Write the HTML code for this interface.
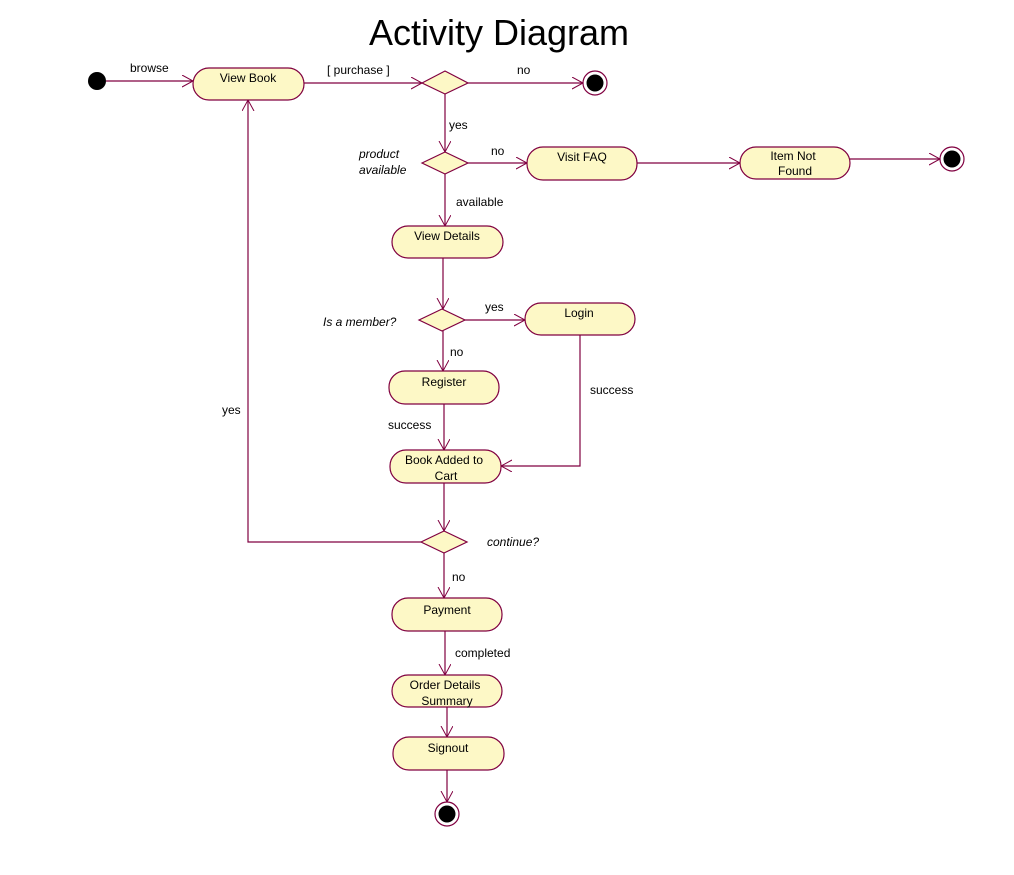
<!DOCTYPE html>
<html><head><meta charset="utf-8"><style>
html,body{margin:0;padding:0;background:#fff;}
svg{display:block;}
text{font-family:"Liberation Sans",sans-serif;font-size:12px;fill:#000;}
.i{font-style:italic;}
</style></head><body>
<svg width="1014" height="875" viewBox="0 0 1014 875" xmlns="http://www.w3.org/2000/svg">
<defs>
<marker id="a" markerUnits="userSpaceOnUse" markerWidth="14" markerHeight="14" refX="11" refY="6" orient="auto">
<path d="M0,0 L11,6 L0,12" fill="none" stroke="#800040" stroke-width="1"/>
</marker>
</defs>
<text x="499" y="45" text-anchor="middle" style="font-size:36px">Activity Diagram</text>
<g stroke="#800040" stroke-width="1.2" fill="none">
<!-- edges -->
<line x1="106" y1="81" x2="193" y2="81" marker-end="url(#a)"/>
<line x1="304" y1="83" x2="422" y2="83" marker-end="url(#a)"/>
<line x1="468" y1="83" x2="583" y2="83" marker-end="url(#a)"/>
<line x1="445" y1="93" x2="445" y2="152" marker-end="url(#a)"/>
<line x1="468" y1="163" x2="527" y2="163" marker-end="url(#a)"/>
<line x1="637" y1="163" x2="740" y2="163" marker-end="url(#a)"/>
<line x1="850" y1="159" x2="940" y2="159" marker-end="url(#a)"/>
<line x1="445" y1="174" x2="445" y2="226" marker-end="url(#a)"/>
<line x1="443" y1="258" x2="443" y2="309" marker-end="url(#a)"/>
<line x1="465" y1="320" x2="525" y2="320" marker-end="url(#a)"/>
<line x1="443" y1="331" x2="443" y2="371" marker-end="url(#a)"/>
<line x1="444" y1="404" x2="444" y2="450" marker-end="url(#a)"/>
<polyline points="580,335 580,466 501,466" marker-end="url(#a)"/>
<line x1="444" y1="483" x2="444" y2="531" marker-end="url(#a)"/>
<polyline points="421,542 248,542 248,100" marker-end="url(#a)"/>
<line x1="444" y1="553" x2="444" y2="598" marker-end="url(#a)"/>
<line x1="445" y1="631" x2="445" y2="675" marker-end="url(#a)"/>
<line x1="447" y1="707" x2="447" y2="737" marker-end="url(#a)"/>
<line x1="447" y1="770" x2="447" y2="802" marker-end="url(#a)"/>
</g>
<g stroke="#800040" stroke-width="1.2" fill="#fdf8c6">
<rect x="193" y="68" width="111" height="32" rx="16"/>
<rect x="527" y="147" width="110" height="33" rx="16"/>
<rect x="740" y="147" width="110" height="32" rx="16"/>
<rect x="392" y="226" width="111" height="32" rx="16"/>
<rect x="525" y="303" width="110" height="32" rx="16"/>
<rect x="389" y="371" width="110" height="33" rx="16"/>
<rect x="390" y="450" width="111" height="33" rx="16"/>
<rect x="392" y="598" width="110" height="33" rx="16"/>
<rect x="392" y="675" width="110" height="32" rx="16"/>
<rect x="393" y="737" width="111" height="33" rx="16"/>
<polygon points="422,83 445,71 468,83 445,94"/>
<polygon points="422,163 445,152 468,163 445,174"/>
<polygon points="419,320 442,309 465,320 442,331"/>
<polygon points="421,542 444,531 467,542 444,553"/>
</g>
<circle cx="97" cy="81" r="9" fill="#000"/>
<g stroke="#800040" stroke-width="1.2" fill="#fff">
<circle cx="595" cy="83" r="12"/>
<circle cx="952" cy="159" r="12"/>
<circle cx="447" cy="814" r="12"/>
</g>
<circle cx="595" cy="83" r="8.5" fill="#000"/>
<circle cx="952" cy="159" r="8.5" fill="#000"/>
<circle cx="447" cy="814" r="8.5" fill="#000"/>
<!-- node labels -->
<g text-anchor="middle">
<text x="248" y="82">View Book</text>
<text x="582" y="161">Visit FAQ</text>
<text x="793" y="160">Item Not</text><text x="795" y="175">Found</text>
<text x="447" y="240">View Details</text>
<text x="579" y="317">Login</text>
<text x="444" y="386">Register</text>
<text x="444" y="464">Book Added to</text><text x="446" y="480">Cart</text>
<text x="447" y="614">Payment</text>
<text x="445" y="689">Order Details</text><text x="447" y="705">Summary</text>
<text x="448" y="752">Signout</text>
</g>
<!-- edge labels -->
<text x="130" y="72">browse</text>
<text x="327" y="74">[ purchase ]</text>
<text x="517" y="74">no</text>
<text x="449" y="129">yes</text>
<text x="491" y="155">no</text>
<text x="359" y="158" class="i">product</text>
<text x="359" y="174" class="i">available</text>
<text x="456" y="206">available</text>
<text x="485" y="311">yes</text>
<text x="323" y="326" class="i">Is a member?</text>
<text x="450" y="356">no</text>
<text x="590" y="394">success</text>
<text x="388" y="429">success</text>
<text x="222" y="414">yes</text>
<text x="487" y="546" class="i">continue?</text>
<text x="452" y="581">no</text>
<text x="455" y="657">completed</text>
</svg>
</body></html>
